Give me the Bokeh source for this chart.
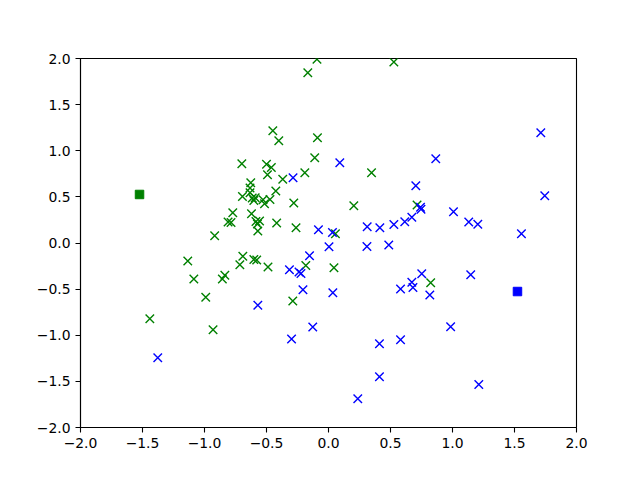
from bokeh.plotting import figure
from bokeh.models import Range1d, FixedTicker
from bokeh.embed import file_html
from bokeh.resources import INLINE

green_x = [-0.093, -0.167, 0.527, -0.449, -0.401, -0.089, -0.111, -0.699, -0.500, -0.461,
           -0.492, -0.369, -0.191, 0.347, -0.627, -0.633, -0.633, -0.425, -0.694, -0.615,
           -0.591, -0.602, -0.528, -0.516, -0.472, -0.280, -0.772, -0.621, -0.810, -0.786,
           -0.585, -0.556, -0.573, -0.570, -0.418, -0.262, -0.918, 0.056, 0.204, 0.714,
           -0.183, 0.044, -0.691, -0.715, -0.602, -0.579, -0.488, -0.836, -0.856, -1.135,
           -1.086, -0.990, -1.441, -0.931, -0.288, 0.824]
green_y = [1.992, 1.845, 1.962, 1.216, 1.108, 1.140, 0.924, 0.859, 0.854, 0.818,
           0.739, 0.692, 0.762, 0.761, 0.654, 0.596, 0.544, 0.564, 0.504, 0.488,
           0.490, 0.461, 0.469, 0.425, 0.472, 0.434, 0.327, 0.317, 0.228, 0.222,
           0.233, 0.238, 0.206, 0.130, 0.217, 0.165, 0.079, 0.101, 0.404, 0.412,
           -0.244, -0.269, -0.144, -0.235, -0.179, -0.184, -0.260, -0.349, -0.390, -0.195,
           -0.390, -0.588, -0.822, -0.941, -0.629, -0.430]

blue_x = [-1.377, -0.570, -0.286, -0.298, -0.315, -0.238, -0.222, -0.206, -0.127, -0.153,
          -0.081, 0.032, 0.004, 0.035, 0.091, 0.312, 0.310, 0.414, 0.486, 0.527,
          0.615, 0.672, 0.704, 0.742, 0.746, 0.865, 1.008, 1.131, 1.204, 1.556,
          1.712, 1.744, 0.752, 0.672, 0.681, 0.581, 0.817, 1.147, 0.985, 0.581,
          0.411, 0.411, 1.212, 0.236]
blue_y = [-1.244, -0.674, 0.708, -1.041, -0.291, -0.314, -0.331, -0.507, -0.911, -0.138,
          0.144, 0.114, -0.040, -0.540, 0.869, 0.176, -0.038, 0.165, -0.022, 0.201,
          0.230, 0.279, 0.621, 0.388, 0.365, 0.914, 0.338, 0.228, 0.203, 0.101,
          1.195, 0.512, -0.333, -0.426, -0.482, -0.499, -0.564, -0.345, -0.908, -1.048,
          -1.092, -1.450, -1.534, -1.689]

center_green = (-1.524, 0.526)
center_blue = (1.524, -0.526)

ticks = [-2.0, -1.5, -1.0, -0.5, 0.0, 0.5, 1.0, 1.5, 2.0]
tick_labels = ["\u22122.0", "\u22121.5", "\u22121.0", "\u22120.5", "0.0", "0.5", "1.0", "1.5", "2.0"]

p = figure(frame_width=496, frame_height=369, output_backend="svg", toolbar_location=None,
           x_range=Range1d(-2, 2), y_range=Range1d(-2, 2),
           min_border_left=80, min_border_top=58, min_border_right=40, min_border_bottom=36)
p.background_fill_color = "white"
p.border_fill_color = "white"
p.outline_line_color = "black"
p.outline_line_width = 1.1
p.grid.visible = False

p.scatter(green_x, green_y, marker="x", size=12, line_color="green", line_width=1.4)
p.scatter(blue_x, blue_y, marker="x", size=12, line_color="blue", line_width=1.4)
p.scatter([center_green[0]], [center_green[1]], marker="square", size=8.5,
          fill_color="green", line_color="green")
p.scatter([center_blue[0]], [center_blue[1]], marker="square", size=8.5,
          fill_color="blue", line_color="blue")

overrides = {t: l for t, l in zip(ticks, tick_labels)}
for ax in (p.xaxis[0], p.yaxis[0]):
    ax.ticker = FixedTicker(ticks=ticks)
    ax.major_label_overrides = overrides
    ax.major_tick_out = 5
    ax.major_tick_in = 0
    ax.minor_tick_out = 0
    ax.minor_tick_in = 0
    ax.axis_line_color = "black"
    ax.axis_line_width = 1.1
    ax.major_tick_line_width = 1.1
    ax.major_label_text_font = "DejaVu Sans"
    ax.major_label_text_font_size = "13.9px"
    ax.major_label_text_color = "black"
    ax.major_label_standoff = 5

with open("out.html", "w") as f:
    f.write(file_html(p, INLINE))
